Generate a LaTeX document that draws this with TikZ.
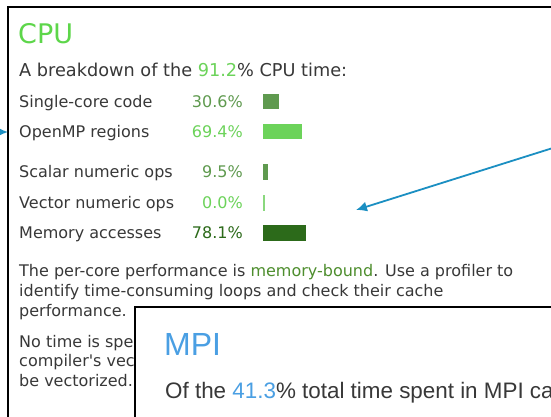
\documentclass[tikz,border=0pt]{standalone}
\usepackage{fontspec}
\setmainfont{DejaVu Sans}[Ligatures=TeXOff]
\newfontfamily\mpifont{Liberation Sans}
\usetikzlibrary{arrows.meta}
\definecolor{textgray}{HTML}{383838}
\definecolor{cputitle}{HTML}{5DD64A}
\definecolor{lightg}{HTML}{6CD35A}
\definecolor{midg}{HTML}{5F9A4F}
\definecolor{darkg}{HTML}{2C6A1A}
\definecolor{vecg}{HTML}{8AD87E}
\definecolor{boundg}{HTML}{4E8E2E}
\definecolor{mpiblue}{HTML}{4A9FE3}
\definecolor{arrowblue}{HTML}{1B8FC2}
\begin{document}
\begin{tikzpicture}[x=1pt,y=-1pt,
  panel/.style={draw=black, fill=white, line width=1.8pt, anchor=north west, inner sep=0pt},
  txt/.style={inner sep=0pt, anchor=base west, text=textgray, font=\fontsize{16}{20}\selectfont},
  pct/.style={inner sep=0pt, anchor=base east, font=\fontsize{16}{20}\selectfont},
  bar/.style={inner sep=0pt, anchor=north west, draw=none},
  pointer/.style={draw=arrowblue, line width=1.8pt, -{Latex[length=11pt,width=10pt]}}
]
\useasboundingbox (0,0) rectangle (551,417);
\clip (0,0) rectangle (551,417);
% CPU panel
\node (cpubox) [panel, minimum width=700pt, minimum height=500pt] at (7,6) {};
\node (cputitle) [inner sep=0pt, anchor=base west, text=cputitle, font=\fontsize{27}{30}\selectfont] at (18,44) {CPU};
\node (heading) [inner sep=0pt, anchor=base west, text=textgray, font=\fontsize{17.7}{20}\selectfont] at (19,77) {A breakdown of the \textcolor{lightg}{91.2}\% CPU time:};
% rows
\node (l1) [txt] at (19,107) {Single-core code};
\node (p1) [pct, text=midg] at (243,107) {30.6\%};
\node (b1) [bar, fill=midg, minimum width=16pt, minimum height=15pt] at (263,94) {};
\node (l2) [txt] at (19,137) {OpenMP regions};
\node (p2) [pct, text=lightg] at (243,137) {69.4\%};
\node (b2) [bar, fill=lightg, minimum width=39pt, minimum height=15pt] at (263,124) {};
\node (l3) [txt] at (19,177) {Scalar numeric ops};
\node (p3) [pct, text=midg] at (243,177) {9.5\%};
\node (b3) [bar, fill=midg, minimum width=5pt, minimum height=16pt] at (263,164) {};
\node (l4) [txt] at (19,208) {Vector numeric ops};
\node (p4) [pct, text=lightg] at (243,208) {0.0\%};
\node (b4) [bar, fill=vecg, minimum width=1.3pt, minimum height=16pt] at (263,195) {};
\node (l5) [txt] at (19,238) {Memory accesses};
\node (p5) [pct, text=darkg] at (243,238) {78.1\%};
\node (b5) [bar, fill=darkg, minimum width=43pt, minimum height=16pt] at (263,225) {};
% paragraphs
\node (t1) [txt] at (19,276) {The per-core performance is \textcolor{boundg}{memory-bound}. Use a profiler to};
\node (t2) [txt] at (19,296) {identify time-consuming loops and check their cache};
\node (t3) [txt] at (19,316) {performance.};
\node (t4) [txt] at (19,347) {No time is spe};
\node (t5) [txt] at (19,366) {compiler's vec};
\node (t6) [txt] at (19,386) {be vectorized.};
% MPI panel
\node (mpibox) [panel, minimum width=600pt, minimum height=300pt] at (134,306) {};
\node (mpititle) [inner sep=0pt, anchor=base west, text=mpiblue, font=\mpifont\fontsize{32}{36}\selectfont] at (164,355) {MPI};
\node (mpiline) [inner sep=0pt, anchor=base west, text=textgray, font=\mpifont\fontsize{22.4}{26}\selectfont] at (165,398) {Of the \textcolor{mpiblue}{41.3}\% total time spent in MPI ca};
% pointers
\coordinate (a1s) at (-20,132);
\coordinate (a1e) at (8,132);
\coordinate (a2s) at (556,147);
\coordinate (a2e) at (356,210);
\draw[pointer] (a1s) -- (a1e);
\draw[pointer] (a2s) -- (a2e);
\end{tikzpicture}
\end{document}
